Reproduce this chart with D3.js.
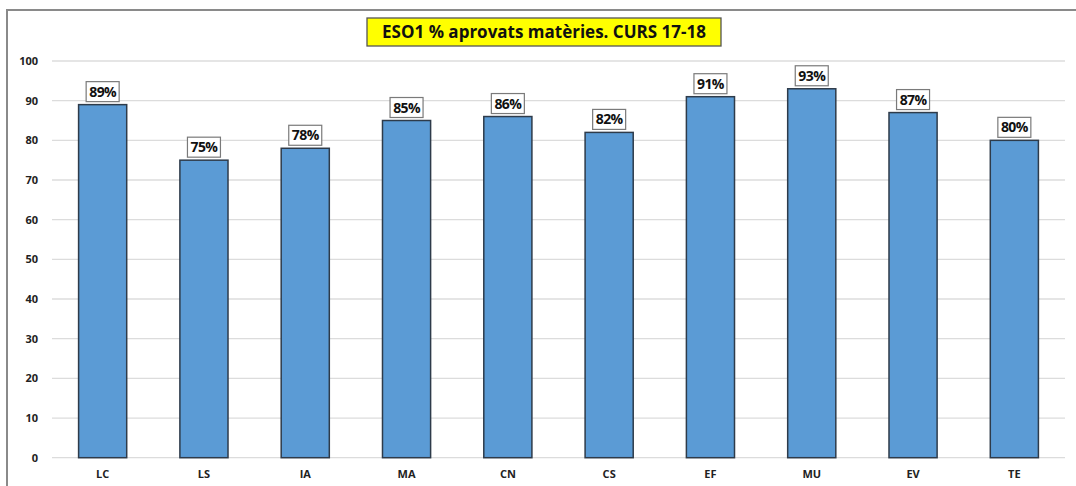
<!DOCTYPE html>
<html><head><meta charset="utf-8">
<script src="https://cdn.jsdelivr.net/npm/d3@7"></script>
<style>body{margin:0;background:#fff}svg{display:block}</style>
</head><body>
<script>
const categories = ["LC","LS","IA","MA","CN","CS","EF","MU","EV","TE"];
const values = [89,75,78,85,86,82,91,93,87,80];
const yTicks = [0,10,20,30,40,50,60,70,80,90,100];
const title = "ESO1 % aprovats matèries. CURS 17-18";

const W = 1076, H = 486;
const svg = d3.select("body").append("svg").attr("width", W).attr("height", H);
const font = "'Open Sans', 'DejaVu Sans', sans-serif";

// outer frame
svg.append("rect").attr("x", 7).attr("y", 10).attr("width", W + 20).attr("height", H + 20)
  .attr("fill", "none").attr("stroke", "#8a8a8a").attr("stroke-width", 2);

const x = d3.scaleBand().domain(categories).range([52, 1065]).paddingInner(0.525).paddingOuter(0.2625);
const y = d3.scaleLinear().domain([0, 100]).range([457.7, 61]);

// gridlines
svg.append("g").selectAll("line").data(yTicks).join("line")
  .attr("x1", 52).attr("x2", 1065)
  .attr("y1", d => y(d)).attr("y2", d => y(d))
  .attr("stroke", "#dcdcdc").attr("stroke-width", 1.3);

// y axis labels
const yAxis = d3.axisLeft(y).tickValues(yTicks).tickSize(0).tickPadding(0);
const ga = svg.append("g").attr("transform", "translate(38,0)").call(yAxis);
ga.select(".domain").remove();
ga.selectAll("text").attr("font-family", font).attr("font-weight", "bold")
  .attr("font-size", 11).attr("fill", "#222");

// x axis labels
const xAxis = d3.axisBottom(x).tickSize(0).tickPadding(0);
const gx = svg.append("g").attr("transform", "translate(0,470)").call(xAxis);
gx.select(".domain").remove();
gx.selectAll("text").attr("font-family", font).attr("font-weight", "bold")
  .attr("font-size", 11).attr("fill", "#222");

// bars
svg.append("g").selectAll("rect").data(values).join("rect")
  .attr("x", (d, i) => x(categories[i]))
  .attr("width", x.bandwidth())
  .attr("y", d => y(d))
  .attr("height", d => y(0) - y(d))
  .attr("fill", "#5B9BD5")
  .attr("stroke", "#2E3B4A").attr("stroke-width", 1.5);

// data labels
const lab = svg.append("g").selectAll("g").data(values).join("g")
  .attr("transform", (d, i) => `translate(${x(categories[i]) + x.bandwidth()/2},${y(d) - 13})`);
lab.append("rect").attr("x", -16.5).attr("y", -10).attr("width", 33).attr("height", 20)
  .attr("fill", "#fff").attr("stroke", "#7a7a7a").attr("stroke-width", 1.2);
lab.append("text").attr("text-anchor", "middle").attr("dy", "0.36em")
  .attr("font-family", font).attr("font-weight", "bold").attr("font-size", 14)
  .attr("letter-spacing", -0.6).attr("fill", "#111")
  .text(d => d + "%");

// title
const tg = svg.append("g");
tg.append("rect").attr("x", 367).attr("y", 18).attr("width", 354).attr("height", 28)
  .attr("fill", "#FFFF00").attr("stroke", "#555").attr("stroke-width", 1.3);
tg.append("text").attr("x", 544).attr("y", 32).attr("dy", "0.36em").attr("text-anchor", "middle")
  .attr("font-family", font).attr("font-weight", "bold").attr("font-size", 17).attr("fill", "#111")
  .text(title);
</script>
</body></html>
